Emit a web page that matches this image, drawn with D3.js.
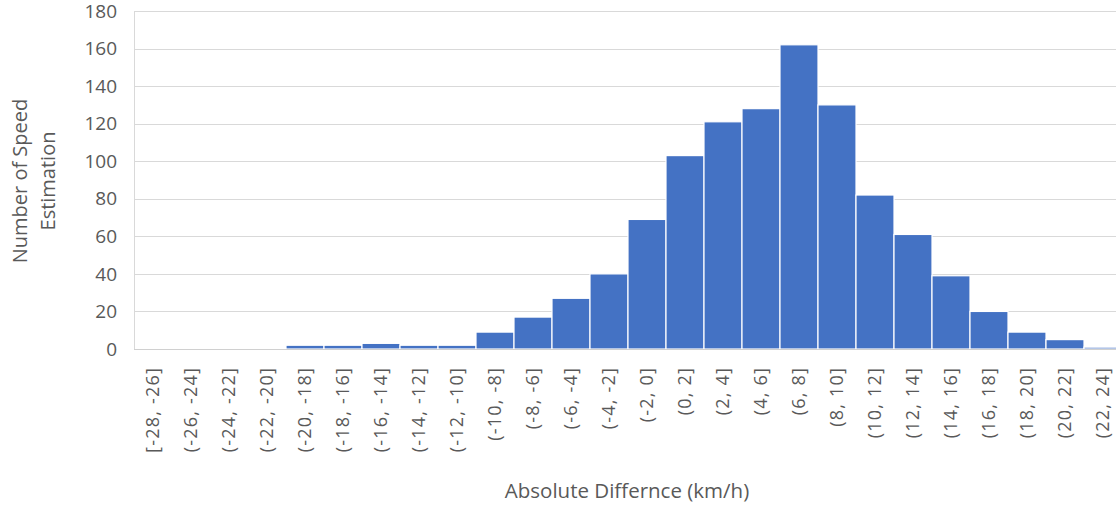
<!DOCTYPE html>
<html>
<head>
<meta charset="utf-8">
<script src="https://cdn.jsdelivr.net/npm/d3@7"></script>
<style>
  body { margin: 0; background: #fff; }
  text { font-family: "Open Sans", "Noto Sans", sans-serif; fill: #595959; }
</style>
</head>
<body>
<svg id="chart" width="1116" height="508"></svg>
<script>
var bins = ["[-28, -26]", "(-26, -24]", "(-24, -22]", "(-22, -20]", "(-20, -18]", "(-18, -16]",
    "(-16, -14]", "(-14, -12]", "(-12, -10]", "(-10, -8]", "(-8, -6]", "(-6, -4]", "(-4, -2]",
    "(-2, 0]", "(0, 2]", "(2, 4]", "(4, 6]", "(6, 8]", "(8, 10]", "(10, 12]", "(12, 14]",
    "(14, 16]", "(16, 18]", "(18, 20]", "(20, 22]", "(22, 24]"];
var counts = [0, 0, 0, 0, 2, 2, 3, 2, 2, 9, 17, 27, 40, 69, 103, 121, 128, 162, 130, 82, 61, 39, 20, 9, 5, 1];
var yTicks = [0, 20, 40, 60, 80, 100, 120, 140, 160, 180];

var plotL = 134, plotT = 11, plotB = 349;
var step = 38;

var svg = d3.select('#chart');

var x = d3.scaleBand()
    .domain(bins)
    .range([plotL, plotL + step * bins.length])
    .padding(0);
var y = d3.scaleLinear()
    .domain([0, 180])
    .range([plotB, plotT]);

// gridlines
svg.append('g')
    .selectAll('line')
    .data(yTicks)
    .enter()
    .append('line')
    .attr('x1', plotL)
    .attr('x2', 1116)
    .attr('y1', d => Math.round(y(d)) + 0.5)
    .attr('y2', d => Math.round(y(d)) + 0.5)
    .attr('stroke', '#d9d9d9')
    .attr('stroke-width', 1);

// left axis line
svg.append('line')
    .attr('x1', plotL + 0.5).attr('x2', plotL + 0.5)
    .attr('y1', plotT).attr('y2', plotB)
    .attr('stroke', '#d9d9d9');

// bars
svg.append('g')
    .selectAll('rect')
    .data(counts)
    .enter()
    .append('rect')
    .attr('x', (d, i) => x(bins[i]))
    .attr('width', x.bandwidth())
    .attr('y', d => y(d))
    .attr('height', d => plotB - y(d))
    .attr('fill', '#4472c4')
    .attr('stroke', '#ffffff')
    .attr('stroke-width', 1.2);

// bottom axis line
svg.append('line')
    .attr('x1', plotL).attr('x2', 1116)
    .attr('y1', plotB + 0.5).attr('y2', plotB + 0.5)
    .attr('stroke', '#d0d0d0');

// y tick labels
svg.append('g')
    .selectAll('text')
    .data(yTicks)
    .enter()
    .append('text')
    .attr('x', 117)
    .attr('y', d => y(d))
    .attr('dy', '0.35em')
    .attr('text-anchor', 'end')
    .style('font-size', '19px')
    .text(d => d);

// x tick labels (rotated)
svg.append('g')
    .selectAll('text')
    .data(bins)
    .enter()
    .append('text')
    .attr('transform', d => 'translate(' + (x(d) + x.bandwidth() / 2) + ',367) rotate(-90)')
    .attr('text-anchor', 'end')
    .attr('dy', '0.35em')
    .style('font-size', '18px')
    .style('letter-spacing', '1.2px')
    .text(d => d);

// axis titles
var yt = svg.append('text')
    .attr('transform', 'translate(20,181) rotate(-90)')
    .attr('text-anchor', 'middle')
    .style('font-size', '20px');
yt.append('tspan').attr('x', 0).attr('dy', '0.35em').text('Number of Speed');
yt.append('tspan').attr('x', 0).attr('dy', '1.4em').text('Estimation');

svg.append('text')
    .attr('x', 627)
    .attr('y', 498)
    .attr('text-anchor', 'middle')
    .style('font-size', '20.5px')
    .text('Absolute Differnce (km/h)');
</script>
</body>
</html>
